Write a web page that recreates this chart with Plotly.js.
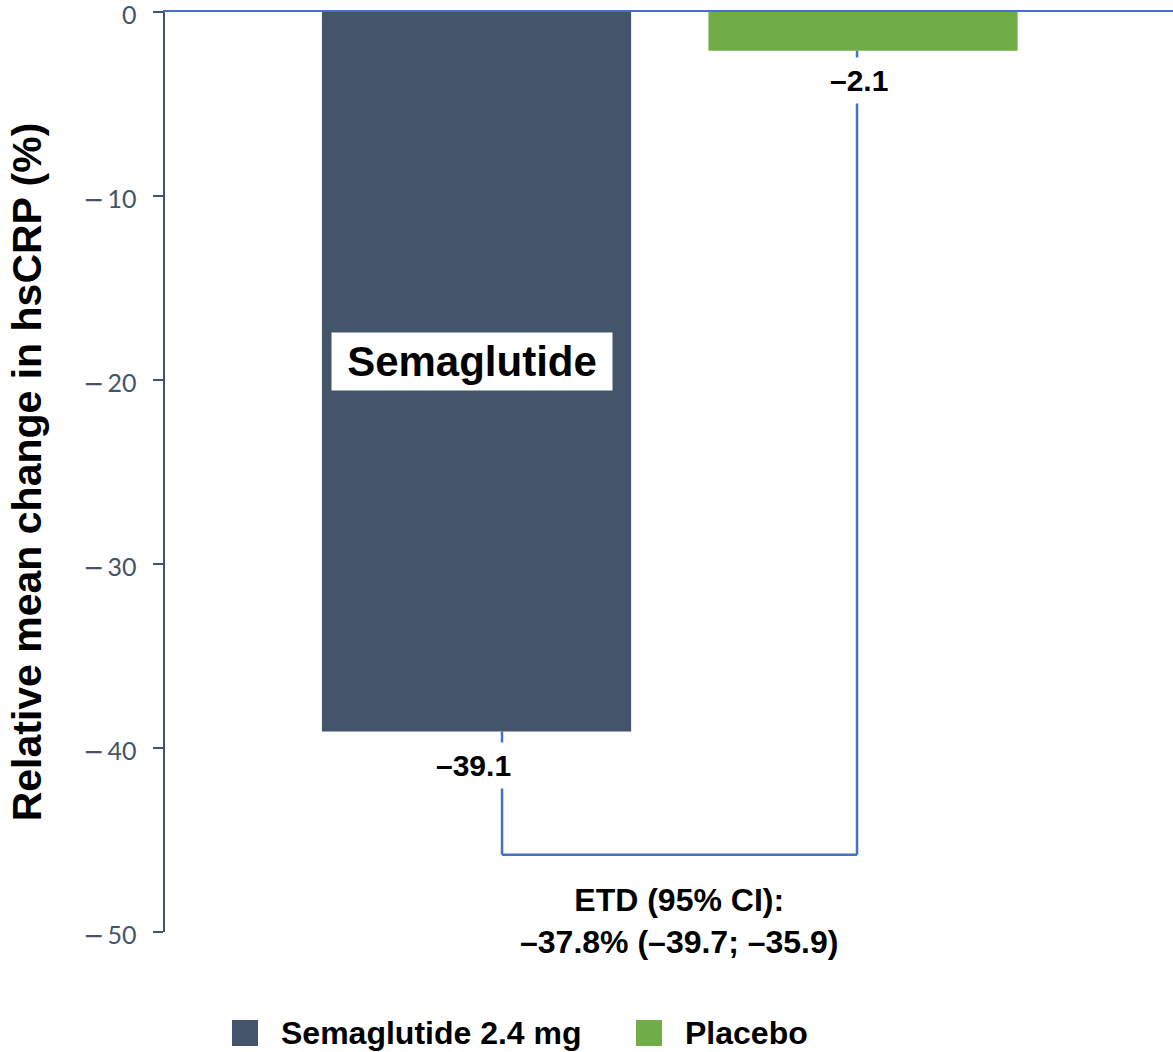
<!DOCTYPE html>
<html>
<head>
<meta charset="utf-8">
<script src="https://cdn.plot.ly/plotly-3.0.1.min.js"></script>
<style>html,body{margin:0;padding:0;background:#fff}#chart{width:1173px;height:1052px}</style>
</head>
<body>
<div id="chart"></div>
<script>
// ---- data ----
const groups = ["Semaglutide 2.4 mg", "Placebo"];
const groupX = [0, 1];
const meanChange = [-39.1, -2.1];
const valueLabels = ["\u201339.1", "\u20132.1"];
const barColors = ["#44546a", "#70ad47"];
const tickVals = [0, -10, -20, -30, -40, -50];
const tickNumbers = ["0", "10", "20", "30", "40", "50"];
const etdLines = ["ETD (95% CI):", "\u201337.8% (\u201339.7; \u201335.9)"];
const barLabel = "Semaglutide";
const bracketLevel = -45.8;

const boldFont = "Liberation Sans, Arial, sans-serif";
const minusSpan = "<span style=\"font-family:'DejaVu Sans'\">\u2212</span>\u2009";
const tickText = tickNumbers.map((t, i) => (tickVals[i] < 0 ? minusSpan : "") + t);

const traces = groups.map((g, i) => ({
  type: "bar",
  x: [groupX[i]],
  y: [meanChange[i]],
  width: 0.8,
  name: g,
  marker: { color: barColors[i], line: { width: 0 } },
  showlegend: false,
  hoverinfo: "skip"
}));

const shapes = [];
const bx = [0.066, 0.9845];
shapes.push({ type: "line", xref: "x", yref: "y", x0: bx[0], x1: bx[0], y0: meanChange[0], y1: bracketLevel, line: { color: "#4472c4", width: 2.5 } });
shapes.push({ type: "line", xref: "x", yref: "y", x0: bx[1], x1: bx[1], y0: meanChange[1], y1: bracketLevel, line: { color: "#4472c4", width: 2.5 } });
shapes.push({ type: "line", xref: "x", yref: "y", x0: bx[0], x1: bx[1], y0: bracketLevel, y1: bracketLevel, line: { color: "#4472c4", width: 2.5 } });

const annotations = [];
annotations.push({ x: groupX[0], y: meanChange[0], xref: "x", yref: "y", text: "<b>" + valueLabels[0] + "</b>", showarrow: false, xshift: -3, yshift: -34, yanchor: "middle", bgcolor: "#ffffff", borderpad: 6, font: { family: boldFont, size: 30, color: "#000" } });
annotations.push({ x: groupX[1], y: meanChange[1], xref: "x", yref: "y", text: "<b>" + valueLabels[1] + "</b>", showarrow: false, xshift: -4, yshift: -30, yanchor: "middle", bgcolor: "#ffffff", borderpad: 6, font: { family: boldFont, size: 30, color: "#000" } });
annotations.push({ x: groupX[0], y: -19.0, xref: "x", yref: "y", text: "<b>" + barLabel + "</b>", showarrow: false, xshift: -5, width: 272, height: 49, borderpad: 4, bgcolor: "#ffffff", font: { family: boldFont, size: 42, color: "#000" } });
annotations.push({ x: 0.524, y: -49.4, xref: "x", yref: "y", text: "<b>" + etdLines.join("<br>") + "</b>", showarrow: false, align: "center", font: { family: boldFont, size: 32, color: "#000" } });

// manual legend
const legX = [232, 636];
groups.forEach((g, i) => {
  shapes.push({ type: "rect", xref: "paper", yref: "paper", x0: (legX[i] - 165) / 1008, x1: (legX[i] + 26 - 165) / 1008, y0: -(1046 - 932) / 920, y1: -(1020 - 932) / 920, fillcolor: barColors[i], line: { width: 0 } });
  annotations.push({ xref: "paper", yref: "paper", x: (legX[i] + 47 - 165) / 1008, y: -(1033 - 932) / 920, xanchor: "left", yanchor: "middle", text: "<b>" + g + "</b>", showarrow: false, font: { family: boldFont, size: 32, color: "#000" } });
});

const layout = {
  width: 1173, height: 1052,
  margin: { l: 165, r: 0, t: 12, b: 120 },
  paper_bgcolor: "#fff", plot_bgcolor: "#fff",
  showlegend: false,
  xaxis: { range: [-0.806, 1.802], side: "top", showline: true, linecolor: "#4472c4", linewidth: 2.5, showticklabels: false, ticks: "", showgrid: false, zeroline: false, fixedrange: true },
  yaxis: {
    range: [-50, 0], tickvals: tickVals, ticktext: tickText, ticks: "outside", ticklen: 10, tickwidth: 2.5, tickcolor: "#44546a",
    showline: true, linecolor: "#44546a", linewidth: 2.5, showgrid: false, zeroline: false,
    ticklabelstandoff: 11, ticklabeloverflow: "allow", ticklabelshift: 3,
    tickfont: { family: "Lato, 'Open Sans', sans-serif", size: 25, color: "#44546a" },
    title: { text: "<b>Relative mean change in hsCRP (%)</b>", font: { family: boldFont, size: 41, color: "#000" }, standoff: 29 }
  },
  shapes: shapes,
  annotations: annotations
};

Plotly.newPlot("chart", traces, layout, { displayModeBar: false, staticPlot: true });
</script>
</body>
</html>
